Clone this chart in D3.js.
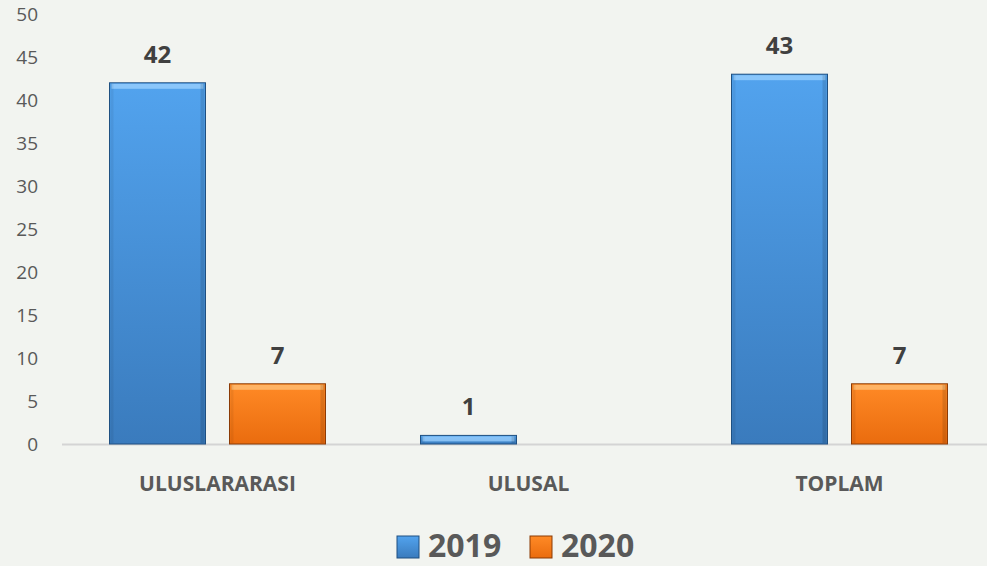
<!DOCTYPE html>
<html>
<head>
<meta charset="utf-8">
<script src="https://cdn.jsdelivr.net/npm/d3@7"></script>
<style>
  body { margin: 0; background: #f2f4f0; }
  svg { display: block; font-family: "Open Sans", "Noto Sans", sans-serif; }
</style>
</head>
<body>
<svg></svg>
<script>
var categories = ["ULUSLARARASI", "ULUSAL", "TOPLAM"];
var seriesNames = ["2019", "2020"];
var values2019 = [42, 1, 43];
var values2020 = [7, 0, 7];
var yTicks = [0, 5, 10, 15, 20, 25, 30, 35, 40, 45, 50];

var svgWidth = 987,
    svgHeight = 566;

// plot area runs a little past the right edge, as in the original slide
var margin = {left: 62, right: -8, top: 14, bottom: 122};

var svg = d3.select("svg")
    .attr("width", svgWidth)
    .attr("height", svgHeight);

var defs = svg.append("defs");
var colors = {
    "2019": {top: "#52a3ee", bottom: "#3a7bbd", stroke: "#1f4f80", light: "#9dd2ff"},
    "2020": {top: "#ff8a26", bottom: "#ea6c0e", stroke: "#8a3a05", light: "#ffc27a"}
};
seriesNames.forEach(function (s) {
    var g = defs.append("linearGradient")
        .attr("id", "grad" + s)
        .attr("x1", 0).attr("y1", 0).attr("x2", 0).attr("y2", 1);
    g.append("stop").attr("offset", "0%").attr("stop-color", colors[s].top);
    g.append("stop").attr("offset", "100%").attr("stop-color", colors[s].bottom);
});

var yScale = d3.scaleLinear()
    .domain([0, 50])
    .range([svgHeight - margin.bottom, margin.top]);

var xScale = d3.scaleBand()
    .domain(categories)
    .range([margin.left, svgWidth - margin.right])
    .paddingInner(0)
    .paddingOuter(0);

var inner = d3.scaleBand()
    .domain(seriesNames)
    .range([0, xScale.bandwidth()])
    .paddingInner(0.2)
    .paddingOuter(0.396);

// y axis labels
var yAxis = d3.axisLeft(yScale).tickValues(yTicks).tickSize(0).tickPadding(0);
svg.append("g")
    .attr("transform", "translate(38,0)")
    .call(yAxis)
    .call(function (g) { g.select(".domain").remove(); })
    .selectAll("text")
    .attr("font-size", 19)
    .attr("fill", "#595959")
    .attr("font-family", "'Open Sans', sans-serif");

// baseline
svg.append("line")
    .attr("x1", margin.left).attr("x2", svgWidth)
    .attr("y1", yScale(0) + 0.5).attr("y2", yScale(0) + 0.5)
    .attr("stroke", "#d4d4d4").attr("stroke-width", 2);

var rows = [];
categories.forEach(function (c, i) {
    rows.push({cat: c, s: "2019", v: values2019[i]});
    rows.push({cat: c, s: "2020", v: values2020[i]});
});

var bars = svg.selectAll("g.bar")
    .data(rows.filter(function (d) { return d.v > 0; }))
    .enter()
    .append("g")
    .attr("class", "bar");

bars.append("rect")
    .attr("x", function (d) { return xScale(d.cat) + inner(d.s); })
    .attr("y", function (d) { return yScale(d.v); })
    .attr("width", inner.bandwidth())
    .attr("height", function (d) { return yScale(0) - yScale(d.v); })
    .attr("fill", function (d) { return "url(#grad" + d.s + ")"; })
    .attr("stroke", function (d) { return colors[d.s].stroke; })
    .attr("stroke-width", 1);

// bevel highlight on top edge
bars.append("rect")
    .attr("x", function (d) { return xScale(d.cat) + inner(d.s) + 2; })
    .attr("y", function (d) { return yScale(d.v) + 1; })
    .attr("width", inner.bandwidth() - 4)
    .attr("height", function (d) { return Math.min(5, yScale(0) - yScale(d.v) - 2); })
    .attr("fill", function (d) { return colors[d.s].light; })
    .attr("opacity", 0.75);

// side shading
bars.append("rect")
    .attr("x", function (d) { return xScale(d.cat) + inner(d.s) + inner.bandwidth() - 5; })
    .attr("y", function (d) { return yScale(d.v) + 1; })
    .attr("width", 4)
    .attr("height", function (d) { return yScale(0) - yScale(d.v) - 2; })
    .attr("fill", "#000")
    .attr("opacity", 0.12);
bars.append("rect")
    .attr("x", function (d) { return xScale(d.cat) + inner(d.s) + 1; })
    .attr("y", function (d) { return yScale(d.v) + 1; })
    .attr("width", 3)
    .attr("height", function (d) { return yScale(0) - yScale(d.v) - 2; })
    .attr("fill", "#000")
    .attr("opacity", 0.06);

// value labels
bars.append("text")
    .attr("x", function (d) { return xScale(d.cat) + inner(d.s) + inner.bandwidth() / 2; })
    .attr("y", function (d) { return yScale(d.v) - 20; })
    .attr("text-anchor", "middle")
    .attr("font-size", 24)
    .attr("font-weight", "bold")
    .attr("fill", "#404040")
    .text(function (d) { return d.v; });

// category labels
svg.selectAll("text.cat")
    .data(categories)
    .enter()
    .append("text")
    .attr("class", "cat")
    .attr("x", function (d) { return xScale(d) + xScale.bandwidth() / 2; })
    .attr("y", 491)
    .attr("text-anchor", "middle")
    .attr("font-size", 21)
    .attr("font-weight", "bold")
    .attr("fill", "#595959")
    .text(function (d) { return d; });

// legend
var legendX = [397, 530];
var legend = svg.selectAll("g.legend")
    .data(seriesNames)
    .enter()
    .append("g")
    .attr("class", "legend")
    .attr("transform", function (d, i) { return "translate(" + legendX[i] + ",536)"; });

legend.append("rect")
    .attr("width", 22).attr("height", 22)
    .attr("fill", function (d) { return "url(#grad" + d + ")"; })
    .attr("stroke", function (d) { return colors[d].stroke; });

legend.append("text")
    .attr("x", 31)
    .attr("y", 21)
    .attr("font-size", 32)
    .attr("font-weight", "bold")
    .attr("fill", "#595959")
    .text(function (d) { return d; });
</script>
</body>
</html>
